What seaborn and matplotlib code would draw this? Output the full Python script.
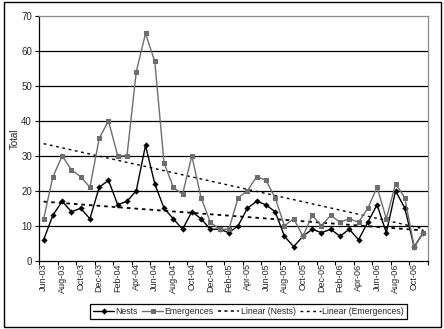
import matplotlib
matplotlib.use("Agg")
import matplotlib.pyplot as plt
from matplotlib.lines import Line2D
from matplotlib.patches import Rectangle
import numpy as np
import pandas as pd
import seaborn as sns

months = [
    "Jun-03", "Jul-03", "Aug-03", "Sep-03", "Oct-03", "Nov-03", "Dec-03",
    "Jan-04", "Feb-04", "Mar-04", "Apr-04", "May-04", "Jun-04", "Jul-04",
    "Aug-04", "Sep-04", "Oct-04", "Nov-04", "Dec-04", "Jan-05", "Feb-05",
    "Mar-05", "Apr-05", "May-05", "Jun-05", "Jul-05", "Aug-05", "Sep-05",
    "Oct-05", "Nov-05", "Dec-05", "Jan-06", "Feb-06", "Mar-06", "Apr-06",
    "May-06", "Jun-06", "Jul-06", "Aug-06", "Sep-06", "Oct-06", "Nov-06",
]
nests = [6, 13, 17, 14, 15, 12, 21, 23, 16, 17, 20, 33, 22, 15, 12, 9, 14,
         12, 9, 9, 8, 10, 15, 17, 16, 14, 7, 4, 7, 9, 8, 9, 7, 9, 6, 11, 16,
         8, 20, 15, 4, 8]
emergences = [12, 24, 30, 26, 24, 21, 35, 40, 30, 30, 54, 65, 57, 28, 21, 19,
              30, 18, 11, 9, 9, 18, 20, 24, 23, 18, 10, 12, 7, 13, 10, 13, 11,
              12, 11, 15, 21, 12, 22, 18, 4, 8]
y_ticks = [0, 10, 20, 30, 40, 50, 60, 70]

sns.set_theme(style="white")
plt.rcParams["font.family"] = ["Liberation Sans", "DejaVu Sans"]

df = pd.DataFrame({"idx": np.arange(len(months)), "month": months,
                   "Nests": nests, "Emergences": emergences})

fig = plt.figure(figsize=(4.44, 3.29), dpi=100)
ax = fig.add_axes([39 / 444, 1 - 260.7 / 329, (428 - 39) / 444, (260.7 - 16) / 329])

NEST_C = "black"
EMER_C = "#6e6e6e"

sns.lineplot(data=df, x="idx", y="Nests", ax=ax, color=NEST_C, lw=1.0,
             marker="D", markersize=3.2, markeredgewidth=0, zorder=4)
sns.lineplot(data=df, x="idx", y="Emergences", ax=ax, color=EMER_C, lw=1.0,
             marker="s", markersize=3.6, markeredgewidth=0, zorder=5)

# linear trend lines
sns.regplot(data=df, x="idx", y="Nests", ax=ax, scatter=False, ci=None,
            truncate=True,
            line_kws=dict(color="black", lw=1.3, ls=(0, (2.0, 2.2)), zorder=3))
sns.regplot(data=df, x="idx", y="Emergences", ax=ax, scatter=False, ci=None,
            truncate=True,
            line_kws=dict(color="black", lw=1.0, ls=(0, (2.0, 2.6)), zorder=3))

ax.set_xlim(-0.5, len(months) - 0.5)
ax.set_ylim(0, 70)
ax.set_yticks(y_ticks)
ax.set_yticklabels([str(v) for v in y_ticks], fontsize=7)
ax.yaxis.grid(True, color="black", lw=0.9)
ax.xaxis.grid(False)
for gl in ax.yaxis.get_gridlines():
    y = gl.get_ydata()[0]
    if y in (0, 70):
        gl.set_visible(False)

# tick marks between every second category, labels on the categories
ax.set_xticks(np.arange(-0.5, len(months), 2))
ax.set_xticklabels([])
ax.set_xticks(np.arange(0, len(months), 2), minor=True)
ax.set_xticklabels(months[::2], minor=True, rotation=90, fontsize=6.5)
ax.tick_params(axis="x", which="major", direction="out", length=3, width=0.8,
               color="black", bottom=True)
ax.tick_params(axis="x", which="minor", length=0, pad=2, bottom=True)
ax.tick_params(axis="y", direction="out", length=3, width=0.8, color="black",
               left=True, pad=2)

ax.set_xlabel("")
ax.set_ylabel("Total", fontsize=7)
ax.yaxis.set_label_coords(-0.05, 0.5)
for s in ("left", "bottom"):
    ax.spines[s].set_color("black")
    ax.spines[s].set_linewidth(0.9)
for s in ("top", "right"):
    ax.spines[s].set_color("#8a8a8a")
    ax.spines[s].set_linewidth(0.9)

handles = [
    Line2D([], [], color=NEST_C, lw=1.0, marker="D", markersize=3.2,
           markeredgewidth=0),
    Line2D([], [], color=EMER_C, lw=1.0, marker="s", markersize=3.6,
           markeredgewidth=0),
    Line2D([], [], color="black", lw=1.1, ls=(0, (2.0, 2.2))),
    Line2D([], [], color="black", lw=1.0, ls=(0, (2.0, 2.6))),
]
labels = ["Nests", "Emergences", "Linear (Nests)", "Linear (Emergences)"]
leg = fig.legend(handles, labels, loc="center", bbox_to_anchor=(0.56, 0.052),
                 ncol=4, fontsize=6.2, frameon=True, fancybox=False,
                 edgecolor="black", framealpha=1, handlelength=2.4,
                 handletextpad=0.2, columnspacing=0.5, borderpad=0.35)
leg.get_frame().set_linewidth(0.9)

fig.patches.append(Rectangle((4 / 444, 2 / 329), 437 / 444, 325 / 329,
                             transform=fig.transFigure, fill=False,
                             edgecolor="black", lw=1.0))

fig.savefig("out.png", dpi=100)
